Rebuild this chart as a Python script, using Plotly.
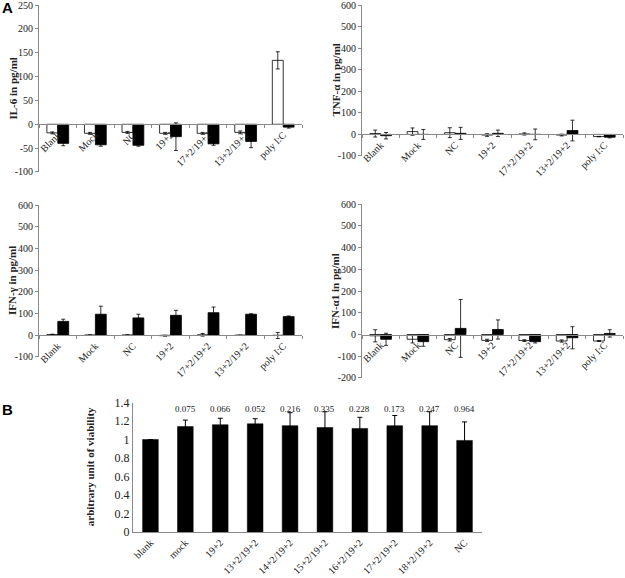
import plotly.graph_objects as go

# ---------------- data ----------------
cats_a = ["Blank", "Mock", "NC", "19+2", "17+2/19+2", "13+2/19+2", "poly I:C"]

il6_white = [-18, -19, -17, -19, -19, -17, 134]
il6_white_err = [2, 2, 2, 2, 2, 3, 18]
il6_black = [-40, -43, -44, -26, -41, -36, -6]
il6_black_err = [5, 3, 2, 29, 3, 13, 2]

tnf_white = [4, 13, 8, -3, 2, -3, -10]
tnf_white_err = [16, 17, 23, 6, 5, 4, 1]
tnf_black = [-6, 0, 5, 5, 0, 18, -13]
tnf_black_err = [15, 23, 28, 15, 25, 48, 3]

ifng_white = [3, 1, 1, -2, 2, 0, -1]
ifng_white_err = [2, 1, 1, 2, 6, 1, 14]
ifng_black = [64, 97, 80, 92, 104, 97, 86]
ifng_black_err = [10, 37, 17, 23, 26, 2, 3]

ifna_white = [-6, -22, -24, -27, -28, -30, -30]
ifna_white_err = [28, 17, 6, 5, 4, 5, 2]
ifna_black = [-22, -33, 28, 23, -33, -15, 5]
ifna_black_err = [28, 21, 133, 44, 6, 51, 17]

cats_b = ["blank", "mock", "19+2", "13+2/19+2", "14+2/19+2", "15+2/19+2",
          "16+2/19+2", "17+2/19+2", "18+2/19+2", "NC"]
via = [1.00, 1.14, 1.16, 1.17, 1.15, 1.13, 1.12, 1.15, 1.15, 0.99]
via_err = [0, 0.07, 0.07, 0.055, 0.14, 0.17, 0.12, 0.11, 0.15, 0.20]
pvals = ["", "0.075", "0.066", "0.052", "0.216", "0.335", "0.228", "0.173", "0.247", "0.964"]

# ---------------- layout helpers ----------------
W, H = 625, 578
SERIF = "Liberation Serif"
AXC = "#8a8a8a"
TXT = "#222222"


def xd(a, b):
    return [a / W, b / W]


def yd(top, bottom):
    return [1 - bottom / H, 1 - top / H]


fig = go.Figure()

panels = [
    # (name, white, werr, black, berr, xdom(px), ydom(px), yrange, dtick, title)
    ("1", il6_white, il6_white_err, il6_black, il6_black_err, (39, 302), (5, 172), (-100, 250), 50, "IL-6 in pg/ml"),
    ("2", tnf_white, tnf_white_err, tnf_black, tnf_black_err, (362, 623), (5, 156), (-100, 600), 100, "TNF-α in pg/ml"),
    ("3", ifng_white, ifng_white_err, ifng_black, ifng_black_err, (39, 302), (205, 357), (-100, 600), 100, "IFN-γ in pg/ml"),
    ("4", ifna_white, ifna_white_err, ifna_black, ifna_black_err, (362, 623), (204, 378), (-200, 600), 100, "IFN-α1 in pg/ml"),
]

layout = dict(
    width=W, height=H, margin=dict(l=0, r=0, t=0, b=0, autoexpand=False),
    paper_bgcolor="white", plot_bgcolor="white", showlegend=False,
    barmode="group", bargap=0.42, bargroupgap=0,
    font=dict(family=SERIF, color=TXT),
)
annotations = []

for name, wv, we, bv, be, xpx, ypx, yr, dt, title in panels:
    xa = "x" + name
    ya = "y" + name
    fig.add_trace(go.Bar(
        x=cats_a, y=wv, xaxis=xa, yaxis=ya, name="white",
        marker=dict(color="white", line=dict(color="black", width=0.8)),
        error_y=dict(type="data", array=we, color="black", thickness=0.8, width=2),
        offsetgroup="w",
    ))
    fig.add_trace(go.Bar(
        x=cats_a, y=bv, xaxis=xa, yaxis=ya, name="black",
        marker=dict(color="black", line=dict(color="black", width=0.8)),
        error_y=dict(type="data", array=be, color="black", thickness=0.8, width=2),
        offsetgroup="b",
    ))
    ydom = yd(*ypx)
    zero_pos = ydom[0] + (0 - yr[0]) / (yr[1] - yr[0]) * (ydom[1] - ydom[0])
    tv = list(range(yr[0], yr[1] + 1, dt))
    pad = (yr[1] - yr[0]) * 1e-4
    layout["xaxis" + name] = dict(
        domain=xd(*xpx), anchor="free", position=zero_pos, automargin=False,
        showline=True, linecolor=AXC, linewidth=1,
        ticks="outside", ticklen=3, tickcolor=AXC, tickson="boundaries",
        tickangle=-45, tickfont=dict(family=SERIF, size=10, color=TXT),
        ticklabeloverflow="allow",
        showgrid=False, zeroline=False, fixedrange=True,
    )
    layout["yaxis" + name] = dict(
        domain=ydom, anchor=xa, range=[yr[0] - pad, yr[1] + pad], automargin=False,
        tickvals=tv, ticktext=[str(v) for v in tv],
        showline=True, linecolor=AXC, linewidth=1,
        ticks="outside", ticklen=3, tickcolor=AXC,
        tickfont=dict(family=SERIF, size=10, color=TXT),
        ticklabeloverflow="allow",
        showgrid=False, zeroline=False, fixedrange=True,
    )
    annotations.append(dict(
        text="<b>" + title + "</b>", textangle=-90, showarrow=False,
        xref="paper", yref="paper",
        x=(xpx[0] - 27) / W, y=sum(ydom) / 2, xanchor="center", yanchor="middle",
        font=dict(family=SERIF, size=11, color=TXT),
    ))

# ---------------- panel B ----------------
fig.add_trace(go.Bar(
    x=cats_b, y=via, xaxis="x5", yaxis="y5", name="viability",
    marker=dict(color="black", line=dict(color="black", width=0.5)),
    error_y=dict(type="data", array=via_err, color="black", thickness=1, width=2.5),
    width=0.45,
))
layout["xaxis5"] = dict(
    domain=xd(133, 482), anchor="y5", automargin=False,
    showline=True, linecolor=AXC, linewidth=1, ticks="",
    tickangle=-45, tickfont=dict(family=SERIF, size=10, color=TXT),
    showgrid=False, zeroline=False, fixedrange=True,
)
layout["yaxis5"] = dict(
    domain=yd(402.5, 532), anchor="x5", range=[0, 1.4002], dtick=0.2, automargin=False,
    showline=True, linecolor=AXC, linewidth=1, ticks="",
    tickfont=dict(family=SERIF, size=12, color=TXT),
    showgrid=False, zeroline=False, fixedrange=True,
)
for c, p in zip(cats_b, pvals):
    if p:
        annotations.append(dict(
            text=p, x=c, y=1.33, xref="x5", yref="y5", showarrow=False,
            xanchor="center", yanchor="middle",
            font=dict(family=SERIF, size=9, color=TXT),
        ))
annotations.append(dict(
    text="<b>arbitrary unit of viability</b>", textangle=-90, showarrow=False,
    xref="paper", yref="paper", x=90 / W, y=sum(yd(402.5, 532)) / 2,
    xanchor="center", yanchor="middle",
    font=dict(family=SERIF, size=11, color=TXT),
))

# panel letters
annotations.append(dict(text="<b>A</b>", x=7 / W, y=1 - 8 / H, xref="paper", yref="paper",
                        showarrow=False, xanchor="center", yanchor="middle",
                        font=dict(family="Liberation Sans", size=15, color="black")))
annotations.append(dict(text="<b>B</b>", x=7 / W, y=1 - 409 / H, xref="paper", yref="paper",
                        showarrow=False, xanchor="center", yanchor="middle",
                        font=dict(family="Liberation Sans", size=15, color="black")))

layout["annotations"] = annotations
fig.update_layout(**layout)
fig.write_html(
    "out.html",
    config={"displayModeBar": False, "staticPlot": True},
    post_script="document.body.style.margin='0';document.body.style.padding='0';",
)
